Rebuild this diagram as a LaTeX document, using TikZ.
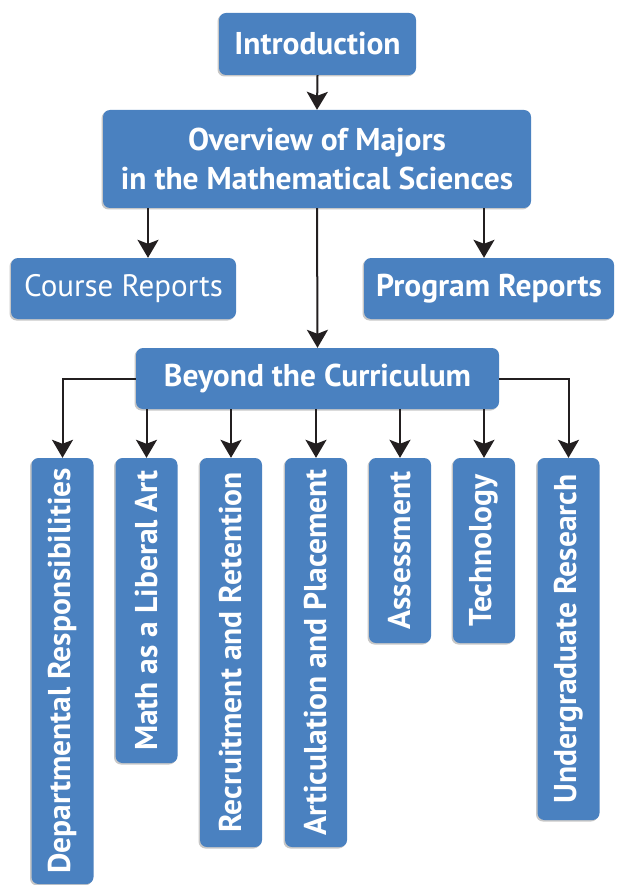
\documentclass[tikz,border=0pt]{standalone}
\usepackage{fontspec}
\setmainfont{PT Sans}
\usetikzlibrary{arrows.meta,shadows}
\definecolor{boxblue}{HTML}{4A81C0}
\definecolor{lineblack}{HTML}{231F20}
\begin{document}
\begin{tikzpicture}[x=1pt,y=-1pt,
  box/.style={fill=boxblue, rounded corners=7pt, text=white, inner sep=0pt, align=center,
    drop shadow={shadow xshift=-1.5pt, shadow yshift=-1.5pt, opacity=0.22, fill=black}},
  headtext/.style={font=\fontsize{31.5}{39}\selectfont\bfseries},
  coltext/.style={font=\fontsize{31.5}{36}\selectfont\bfseries},
  conn/.style={line width=2pt, draw=lineblack, -{Stealth[length=18pt,width=21pt,inset=4pt]}}
]
\useasboundingbox (0,0) rectangle (618,885);
\fill[white] (0,0) rectangle (618,885);

\node[box, headtext, minimum width=197pt, minimum height=62pt] (intro) at (317.5,44) {Introduction};
\node[box, headtext, minimum width=428pt, minimum height=98pt] (over) at (317,159) {Overview of Majors\\in the Mathematical Sciences};
\node[box, font=\fontsize{31}{36}\selectfont, minimum width=225pt, minimum height=61pt] (course) at (123.5,288.5) {Course Reports};
\node[box, headtext, minimum width=250pt, minimum height=61pt] (program) at (489,288.5) {Program Reports};
\node[box, headtext, minimum width=363pt, minimum height=61pt] (beyond) at (317.5,378.5) {Beyond the Curriculum};

\node[box, coltext, rotate=90, minimum width=426pt, minimum height=62pt] (c1) at (62.5,671) {Departmental Responsibilities};
\node[box, coltext, rotate=90, minimum width=305pt, minimum height=62pt] (c2) at (146.5,610.5) {Math as a Liberal Art};
\node[box, coltext, rotate=90, minimum width=389pt, minimum height=62pt] (c3) at (231,652.5) {Recruitment and Retention};
\node[box, coltext, rotate=90, minimum width=389pt, minimum height=62pt] (c4) at (316,652.5) {Articulation and Placement};
\node[box, coltext, rotate=90, minimum width=185pt, minimum height=62pt] (c5) at (400,550.5) {Assessment};
\node[box, coltext, rotate=90, minimum width=185pt, minimum height=62pt] (c6) at (484,550.5) {Technology};
\node[box, coltext, rotate=90, minimum width=362pt, minimum height=62pt] (c7) at (568.5,639) {Undergraduate Research};

\draw[conn] (intro.south) -- (over.north);
\draw[conn] ([xshift=24.5pt]course.north |- over.south) -- ([xshift=24.5pt]course.north);
\draw[conn] ([xshift=-5pt]program.north |- over.south) -- ([xshift=-5pt]program.north);
\draw[conn] (over.south) -- (beyond.north);

\draw[conn] (beyond.west) -| (c1.east);
\draw[conn] (c2.east |- beyond.south) -- (c2.east);
\draw[conn] (c3.east |- beyond.south) -- (c3.east);
\draw[conn] (c4.east |- beyond.south) -- (c4.east);
\draw[conn] (c5.east |- beyond.south) -- (c5.east);
\draw[conn] (c6.east |- beyond.south) -- (c6.east);
\draw[conn] (beyond.east) -| (c7.east);
\end{tikzpicture}
\end{document}
